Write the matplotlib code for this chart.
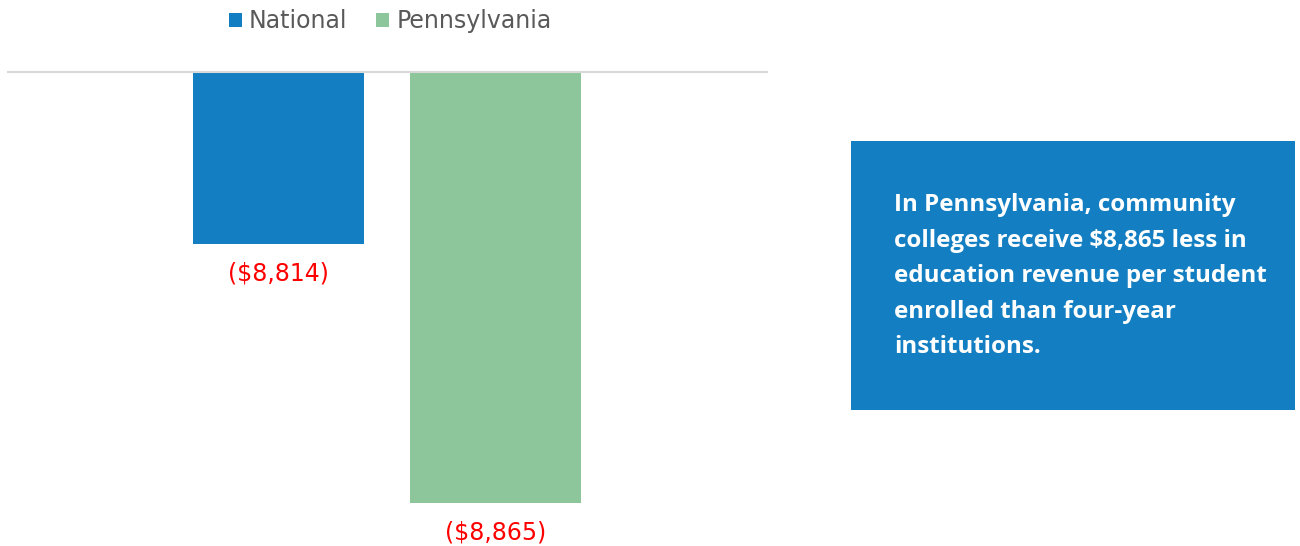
import numpy as np
import matplotlib.pyplot as plt
from matplotlib.patches import Rectangle

categories = ["National", "Pennsylvania"]
values = [-8814, -8865]
labels = ["($8,814)", "($8,865)"]
colors = ["#137fc2", "#8dc69a"]
note = ("In Pennsylvania, community\n"
        "colleges receive $8,865 less in\n"
        "education revenue per student\n"
        "enrolled than four-year\n"
        "institutions.")

plt.rcParams["font.family"] = "DejaVu Sans"

fig = plt.figure(figsize=(13, 5.46), dpi=100)
ax = fig.add_axes([8/1300, 0.0, 759/1300, 1 - 72/546])

x = np.arange(len(values))
bars = ax.bar(x, values, width=0.788, color=colors, label=categories)
ax.set_ylim(-8873.5, -8780.1)
ax.set_xlim(-1.2465, 2.251)

for b, lab in zip(bars, labels):
    ax.annotate(lab, (b.get_x() + b.get_width()/2, b.get_height()),
                xytext=(0, -21), textcoords="offset points",
                ha="center", va="center", color="red", fontsize=17)

for s in ["left", "right", "bottom"]:
    ax.spines[s].set_visible(False)
ax.spines["top"].set_color("#d9d9d9")
ax.spines["top"].set_linewidth(1.5)
ax.set_xticks([])
ax.set_yticks([])

fig.legend(handles=list(bars), labels=categories, loc="center",
           bbox_to_anchor=(390/1300, 1 - 21/546), ncol=2, frameon=False,
           handlelength=0.55, handleheight=0.55, handletextpad=0.3,
           columnspacing=1.23, fontsize=17, labelcolor="#595959")

fig.add_artist(Rectangle((851/1300, 1 - 410/546), 444/1300, 269/546,
                         transform=fig.transFigure, color="#137fc2", lw=0))
fig.text(894/1300, 1 - 193/546, note, ha="left", va="top", color="white",
         fontsize=17.4, fontweight="bold", family="Open Sans", linespacing=1.64)

fig.savefig("out.png", dpi=100)
